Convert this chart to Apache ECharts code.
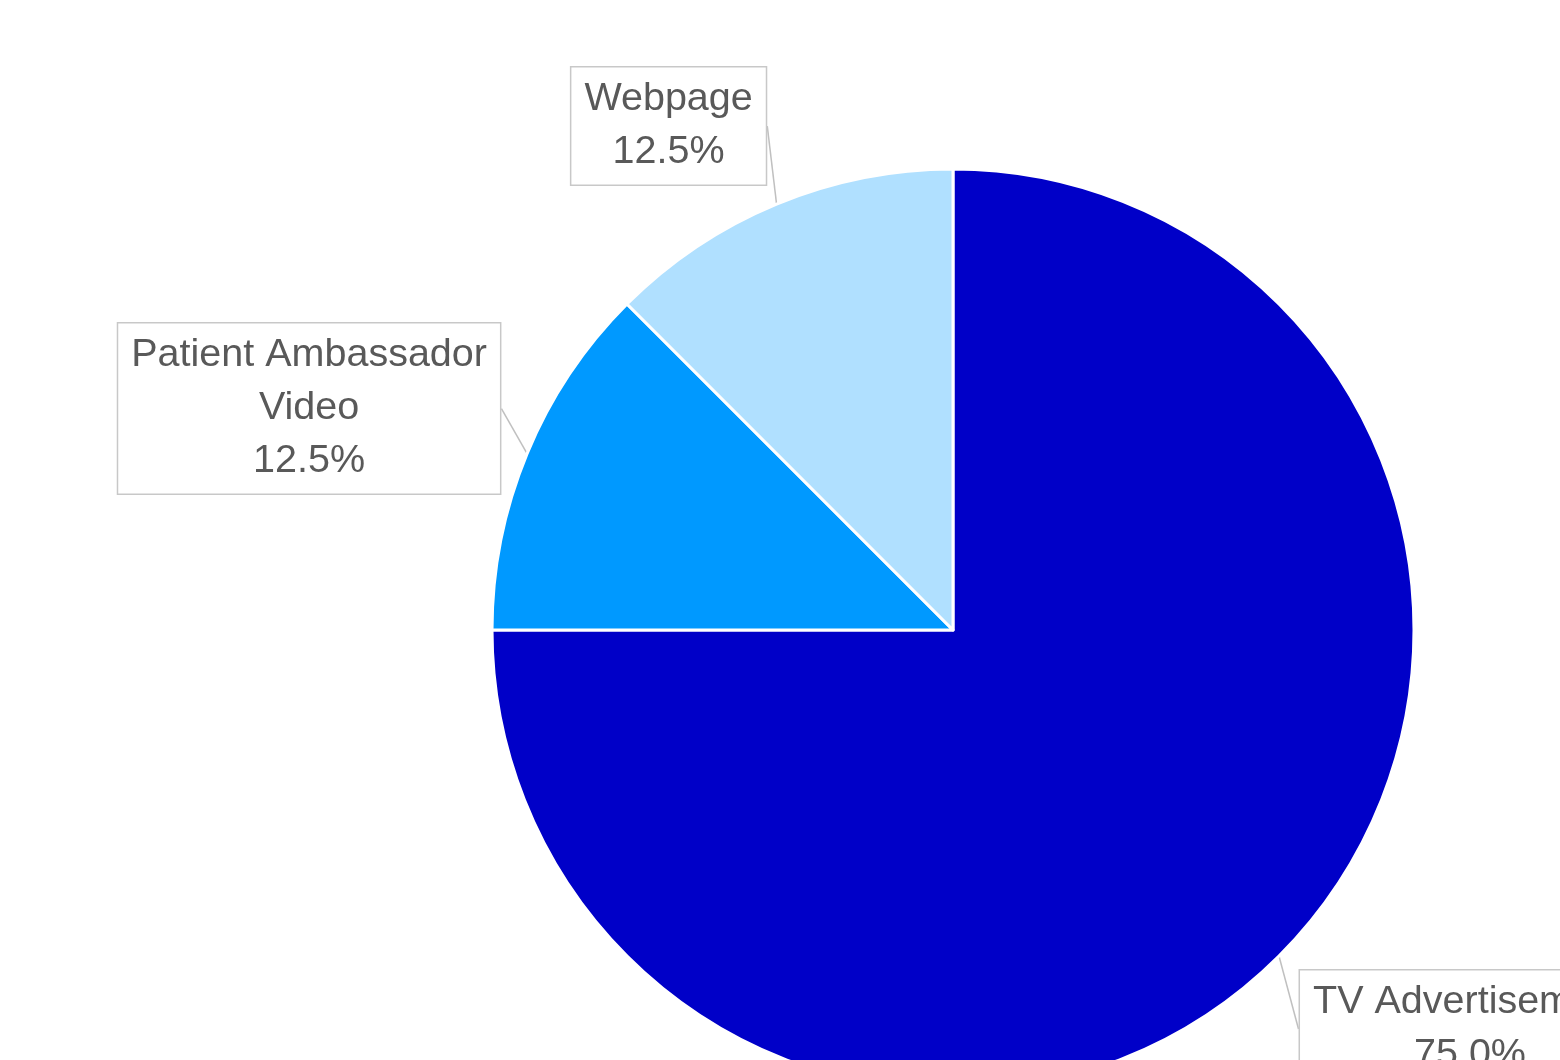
<!DOCTYPE html>
<html>
<head>
<meta charset="utf-8">
<script src="https://cdn.jsdelivr.net/npm/echarts@6/dist/echarts.min.js"></script>
<style>
html,body{margin:0;padding:0;background:#fff;}
#chart{width:1560px;height:1060px;}
</style>
</head>
<body>
<div id="chart"></div>
<script>
const categories = ['TV Advertisement', 'Patient Ambassador Video', 'Webpage'];
const values = [75, 12.5, 12.5];
const colors = ['#0000c8', '#0099ff', '#b0e0ff'];

const labelOffsets = [[191, 73], [-218, -45], [-108, -78]];

const chart = echarts.init(document.getElementById('chart'));
chart.setOption({
  animation: false,
  backgroundColor: '#ffffff',
  series: [{
    type: 'pie',
    left: 0,
    top: 0,
    width: 3000,
    height: 2000,
    center: [953, 630],
    radius: 461,
    startAngle: 90,
    clockwise: true,
    data: categories.map((c, i) => ({ name: c, value: values[i], itemStyle: { color: colors[i] } })),
    itemStyle: { borderColor: '#ffffff', borderWidth: 3 },
    label: {
      show: true,
      position: 'outside',
      overflow: 'none',
      formatter: p => p.name.replace('Ambassador ', 'Ambassador\n') + '\n' + p.percent.toFixed(1) + '%',
      fontFamily: 'Liberation Sans, Arial, sans-serif',
      fontSize: 39.5,
      lineHeight: 53,
      color: '#595959',
      align: 'center',
      backgroundColor: '#ffffff',
      borderColor: '#c8c8c8',
      borderWidth: 1.5,
      padding: [6, 13, 5, 13]
    },
    labelLine: {
      show: true,
      length: 8,
      length2: 0,
      lineStyle: { color: '#c0c0c0', width: 1.5 }
    },
    labelLayout: function (params) {
      const pts = params.labelLinePoints;
      const off = labelOffsets[params.dataIndex];
      if (!pts) return {};
      return {
        x: pts[0][0] + off[0],
        y: pts[0][1] + off[1],
        align: 'center',
        verticalAlign: 'middle'
      };
    }
  }]
});
</script>
</body>
</html>
